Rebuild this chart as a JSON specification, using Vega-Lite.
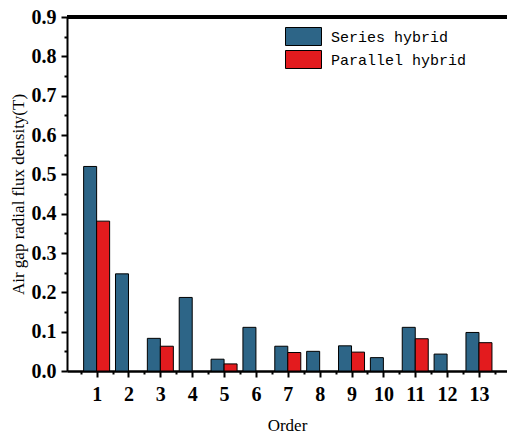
{
  "$schema": "https://vega.github.io/schema/vega-lite/v6.json",
  "width": 440,
  "height": 354,
  "autosize": {"type": "none"},
  "padding": {"left": 67, "top": 17, "right": 0, "bottom": 66},
  "background": "white",
  "config": {
    "view": {"stroke": "#9a9a9a", "strokeWidth": 1},
    "font": "Liberation Serif",
    "axis": {
      "labelOverlap": false,
      "labelFlush": false,
      "grid": false,
      "domainColor": "black",
      "tickColor": "black",
      "tickWidth": 2,
      "tickCount": 100,
      "labelFont": "Liberation Serif",
      "labelFontSize": 20,
      "labelFontWeight": "bold",
      "labelColor": "black",
      "titleFont": "Liberation Serif",
      "titleFontSize": 17,
      "titleFontWeight": "normal",
      "titleColor": "black"
    },
    "axisX": {"domainWidth": 2.5, "labelPadding": 7, "titlePadding": 13},
    "axisY": {"domainWidth": 2, "labelPadding": 5, "titlePadding": 4}
  },
  "title": {
    "text": "(a)",
    "font": "Liberation Serif",
    "fontSize": 20,
    "fontWeight": "normal",
    "color": "black",
    "anchor": "middle",
    "offset": 13,
    "dx": -6
  },
  "data": {
    "values": [
      {"order": 1, "series": "Series hybrid", "value": 0.52},
      {"order": 1, "series": "Parallel hybrid", "value": 0.381},
      {"order": 2, "series": "Series hybrid", "value": 0.247},
      {"order": 3, "series": "Series hybrid", "value": 0.083},
      {"order": 3, "series": "Parallel hybrid", "value": 0.063},
      {"order": 4, "series": "Series hybrid", "value": 0.187},
      {"order": 5, "series": "Series hybrid", "value": 0.03},
      {"order": 5, "series": "Parallel hybrid", "value": 0.018},
      {"order": 6, "series": "Series hybrid", "value": 0.111},
      {"order": 7, "series": "Series hybrid", "value": 0.063},
      {"order": 7, "series": "Parallel hybrid", "value": 0.047},
      {"order": 8, "series": "Series hybrid", "value": 0.05},
      {"order": 9, "series": "Series hybrid", "value": 0.064},
      {"order": 9, "series": "Parallel hybrid", "value": 0.048},
      {"order": 10, "series": "Series hybrid", "value": 0.034},
      {"order": 11, "series": "Series hybrid", "value": 0.111},
      {"order": 11, "series": "Parallel hybrid", "value": 0.082},
      {"order": 12, "series": "Series hybrid", "value": 0.043},
      {"order": 13, "series": "Series hybrid", "value": 0.098},
      {"order": 13, "series": "Parallel hybrid", "value": 0.072}
    ]
  },
  "layer": [
    {
      "transform": [{"filter": "datum.series === 'Series hybrid'"}],
      "mark": {"type": "bar", "size": 13, "xOffset": -6.5, "stroke": "black", "strokeWidth": 1},
      "encoding": {
        "x": {
          "field": "order",
          "type": "quantitative",
          "scale": {"domain": [0.07, 13.88], "nice": false, "zero": false, "padding": 0},
          "axis": {
            "values": [0.5, 1, 1.5, 2, 2.5, 3, 3.5, 4, 4.5, 5, 5.5, 6, 6.5, 7, 7.5, 8, 8.5, 9, 9.5, 10, 10.5, 11, 11.5, 12, 12.5, 13, 13.5],
            "tickCount": 100,
            "labelExpr": "datum.value % 1 === 0 ? format(datum.value, 'd') : ''",
            "tickSize": {"condition": {"test": "datum.value % 1 === 0", "value": 6}, "value": 3},
            "title": "Order"
          }
        },
        "y": {
          "field": "value",
          "type": "quantitative",
          "scale": {"domain": [0, 0.9], "nice": false, "padding": 0},
          "axis": {
            "values": [0, 0.05, 0.1, 0.15, 0.2, 0.25, 0.3, 0.35, 0.4, 0.45, 0.5, 0.55, 0.6, 0.65, 0.7, 0.75, 0.8, 0.85, 0.9],
            "tickCount": 100,
            "labelExpr": "abs(datum.value * 10 - round(datum.value * 10)) < 0.001 ? format(datum.value, '.1f') : ''",
            "tickSize": {"condition": {"test": "abs(datum.value * 10 - round(datum.value * 10)) < 0.001", "value": 6}, "value": 3},
            "title": "Air gap radial flux density(T)"
          }
        },
        "color": {
          "field": "series",
          "type": "nominal",
          "scale": {"domain": ["Series hybrid", "Parallel hybrid"], "range": ["#2D6587", "#E31B1E"]},
          "legend": {
            "orient": "none",
            "legendX": 227,
            "legendY": 10,
            "title": null,
            "padding": 0,
            "symbolType": "M-2,-1H2V1H-2Z",
            "symbolSize": 324,
            "symbolStrokeColor": "black",
            "symbolStrokeWidth": 1,
            "symbolOpacity": 1,
            "labelFont": "Liberation Mono",
            "labelFontSize": 15,
            "labelColor": "black",
            "labelOffset": 18,
            "rowPadding": 0
          }
        }
      }
    },
    {
      "transform": [{"filter": "datum.series === 'Parallel hybrid'"}],
      "mark": {"type": "bar", "size": 13, "xOffset": 6.5, "stroke": "black", "strokeWidth": 1},
      "encoding": {
        "x": {"field": "order", "type": "quantitative"},
        "y": {"field": "value", "type": "quantitative"},
        "color": {"field": "series", "type": "nominal"}
      }
    },
    {
      "mark": {"type": "rule", "color": "black", "strokeWidth": 2.5},
      "encoding": {"y": {"datum": 0.9}}
    }
  ]
}
